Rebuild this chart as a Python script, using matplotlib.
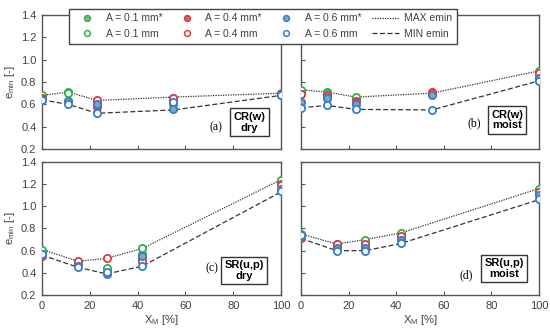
import matplotlib
matplotlib.use("Agg")
import matplotlib.pyplot as plt
from matplotlib.lines import Line2D

plt.rcParams['font.family'] = ['Liberation Sans', 'DejaVu Sans']

# x positions (X_M, %)
x_cr = [0, 11, 23, 55, 100]
x_sr = [0, 15, 27, 42, 100]

# order of series: 0.1*, 0.1, 0.4*, 0.4, 0.6*, 0.6
labels = ['A = 0.1 mm*', 'A = 0.1 mm', 'A = 0.4 mm*', 'A = 0.4 mm',
          'A = 0.6 mm*', 'A = 0.6 mm']
edge_cols = ['#2DB34A', '#2DB34A', '#E0393E', '#E0393E', '#3A7DC9', '#3A7DC9']
face_cols = ['#86B38E', 'white', '#C66E72', 'white', '#86A2C2', 'white']

# CR(w) dry
cr_dry = [[0.67, 0.71, 0.63, 0.60, 0.69],
          [0.68, 0.70, 0.62, 0.66, 0.70],
          [0.66, 0.62, 0.58, 0.64, 0.69],
          [0.65, 0.63, 0.64, 0.66, 0.69],
          [0.64, 0.63, 0.60, 0.56, 0.68],
          [0.64, 0.60, 0.52, 0.62, 0.68]]
cr_dry_max = [0.68, 0.71, 0.635, 0.665, 0.70]
cr_dry_min = [0.64, 0.60, 0.52, 0.55, 0.68]

# CR(w) moist
cr_moist = [[0.72, 0.71, 0.66, 0.69, 0.89],
            [0.73, 0.70, 0.67, 0.70, 0.90],
            [0.69, 0.68, 0.63, 0.71, 0.87],
            [0.69, 0.66, 0.615, 0.70, 0.88],
            [0.62, 0.66, 0.60, 0.68, 0.84],
            [0.57, 0.59, 0.555, 0.55, 0.81]]
cr_moist_max = [0.73, 0.71, 0.665, 0.70, 0.90]
cr_moist_min = [0.57, 0.59, 0.555, 0.55, 0.81]

# SR(u,p) dry
sr_dry = [[0.58, 0.49, 0.42, 0.57, 1.22],
          [0.61, 0.50, 0.44, 0.62, 1.24],
          [0.56, 0.48, 0.40, 0.53, 1.20],
          [0.55, 0.51, 0.53, 0.51, 1.19],
          [0.57, 0.46, 0.39, 0.55, 1.16],
          [0.57, 0.45, 0.41, 0.46, 1.14]]
sr_dry_max = [0.61, 0.505, 0.53, 0.62, 1.24]
sr_dry_min = [0.56, 0.45, 0.39, 0.46, 1.13]

# SR(u,p) moist
sr_moist = [[0.73, 0.65, 0.68, 0.74, 1.14],
            [0.75, 0.66, 0.70, 0.76, 1.16],
            [0.71, 0.64, 0.65, 0.72, 1.12],
            [0.72, 0.66, 0.66, 0.73, 1.13],
            [0.73, 0.62, 0.62, 0.70, 1.10],
            [0.74, 0.60, 0.60, 0.67, 1.07]]
sr_moist_max = [0.75, 0.66, 0.70, 0.76, 1.16]
sr_moist_min = [0.71, 0.60, 0.60, 0.665, 1.06]

panels = [
    (x_cr, cr_dry, cr_dry_max, cr_dry_min, '(a)', 'CR(w)\ndry'),
    (x_cr, cr_moist, cr_moist_max, cr_moist_min, '(b)', 'CR(w)\nmoist'),
    (x_sr, sr_dry, sr_dry_max, sr_dry_min, '(c)', 'SR(u,p)\ndry'),
    (x_sr, sr_moist, sr_moist_max, sr_moist_min, '(d)', 'SR(u,p)\nmoist'),
]

# axes rectangles [left, bottom, width, height] in figure fraction
rects = [[0.0764, 0.5498, 0.4345, 0.4049],
         [0.5473, 0.5498, 0.4327, 0.4049],
         [0.0764, 0.1088, 0.4345, 0.4018],
         [0.5473, 0.1088, 0.4327, 0.4018]]
tag_pos = [(0.728, 0.164), (0.727, 0.19), (0.711, 0.20), (0.693, 0.15)]
box_pos = [(0.868, 0.20), (0.866, 0.216), (0.845, 0.184), (0.853, 0.20)]

spine_col = '#555555'
text_col = '#404040'

fig = plt.figure(figsize=(5.5, 3.31), dpi=100)

for i, (xs, series, ymax, ymin, tag, name) in enumerate(panels):
    ax = fig.add_axes(rects[i])
    ax.plot(xs, ymax, color='#333333', lw=0.9, ls=(0, (1, 1)), zorder=2)
    ax.plot(xs, ymin, color='#333333', lw=0.9, ls=(0, (4, 2)), zorder=2)
    for j, ys in enumerate(series):
        ax.plot(xs, ys, ls='none', marker='o', ms=5.2, mew=1.3,
                mec=edge_cols[j], mfc=face_cols[j], zorder=3)
    ax.set_xlim(0, 100)
    ax.set_ylim(0.2, 1.4)
    ax.set_xticks([0, 20, 40, 60, 80, 100])
    ax.set_yticks([0.2, 0.4, 0.6, 0.8, 1.0, 1.2, 1.4])
    ax.yaxis.set_major_formatter(matplotlib.ticker.FormatStrFormatter('%.1f'))
    ax.tick_params(direction='in', length=3, width=0.8, color=spine_col,
                   labelsize=8, labelcolor=text_col, pad=4)
    for sp in ax.spines.values():
        sp.set_color(spine_col)
        sp.set_linewidth(1.0)
    if i < 2:
        ax.tick_params(labelbottom=False)
    else:
        ax.set_xlabel('X$_\\mathregular{M}$ [%]', fontsize=8, color=text_col,
                      labelpad=2)
    if i % 2 == 1:
        ax.tick_params(labelleft=False)
    else:
        ax.set_ylabel('e$_\\mathregular{min}$ [-]', fontsize=8, color=text_col,
                      labelpad=3)
    ax.text(tag_pos[i][0], tag_pos[i][1], tag, transform=ax.transAxes,
            family='Liberation Serif', fontsize=8.5, ha='center', va='center')
    ax.text(box_pos[i][0], box_pos[i][1], name, transform=ax.transAxes,
            fontsize=8, fontweight='bold', ha='center', va='center',
            linespacing=1.1,
            bbox=dict(boxstyle='square,pad=0.3', fc='white', ec='#333333',
                      lw=1.0))

handles = []
for j in range(6):
    handles.append(Line2D([], [], ls='none', marker='o', ms=4.2, mew=1.1,
                          mec=edge_cols[j], mfc=face_cols[j]))
handles.append(Line2D([], [], color='#333333', lw=0.9, ls=(0, (1, 1))))
handles.append(Line2D([], [], color='#333333', lw=0.9, ls=(0, (4, 2))))
leg_labels = labels + ['MAX emin', 'MIN emin']

leg = fig.legend(handles, leg_labels, ncol=4, loc='upper center',
                 bbox_to_anchor=(0.478, 0.99), fontsize=7.5, frameon=True,
                 fancybox=False, framealpha=1, edgecolor='#444444',
                 handlelength=2.6, columnspacing=1.0, handletextpad=0.5,
                 borderpad=0.45, labelspacing=0.55)
leg.get_frame().set_linewidth(1.0)
for t in leg.get_texts():
    t.set_color(text_col)

fig.savefig('out.png', dpi=100)
